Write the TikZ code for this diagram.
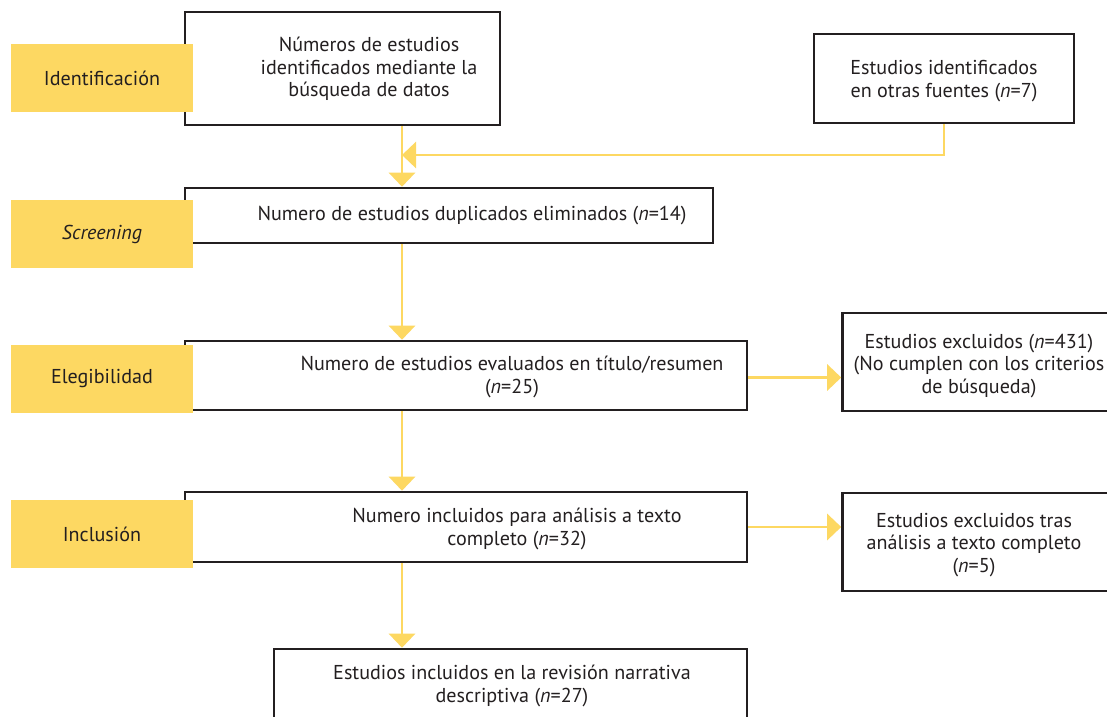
\documentclass[tikz,border=0pt]{standalone}
\usepackage{fontspec}
\setmainfont{PT Sans}
\usetikzlibrary{arrows.meta}
\definecolor{ylw}{RGB}{253,216,98}
\definecolor{ink}{RGB}{35,31,32}
\begin{document}
\begin{tikzpicture}[x=1pt,y=-1pt,
  box/.style={draw=ink, line width=2.6pt, fill=white, rectangle, inner sep=0pt},
  phase/.style={fill=ylw, draw=none, rectangle, minimum width=182pt, minimum height=68pt, inner sep=0pt, text=ink},
  txt/.style={align=center, text=ink, inner sep=0pt},
  yarrow/.style={draw=ylw, line width=2.8pt, -{Triangle[width=26pt,length=14pt]}},
  every node/.style={font=\fontsize{20.1}{22.5}\selectfont}]
\clip (0,0) rectangle (1107,716);
\fill[white] (0,0) rectangle (1107,716);
% boxes
\node[box, minimum width=315pt, minimum height=113pt] (b1) at (342.5,68.5) {};
\node[box, minimum width=260pt, minimum height=89pt] (src) at (944,78.5) {};
\node[box, minimum width=528pt, minimum height=55pt] (b2) at (449,215.5) {};
\node[box, minimum width=562pt, minimum height=69pt] (b3) at (466,375.5) {};
\node[box, minimum width=273pt, minimum height=98pt] (ex1) at (979,362) {};
\node[box, minimum width=562pt, minimum height=70pt] (b4) at (466,527) {};
\node[box, minimum width=273pt, minimum height=98pt] (ex2) at (979,542) {};
\node[box, minimum width=473pt, minimum height=81pt] (b5) at (510.5,689.5) {};
% connectors
\coordinate (ax) at (402,0);
\coordinate (j) at (402,155);
\draw[draw=ylw, line width=2.8pt] (b1.south -| ax) -- (j);
\draw[yarrow] (j) -- (b2.north -| ax);
\draw[yarrow] (src.south) |- (j);
\draw[yarrow] (b2.south -| ax) -- (b3.north -| ax);
\draw[yarrow] (b3.south -| ax) -- (b4.north -| ax);
\draw[yarrow] (b4.south -| ax) -- (b5.north -| ax);
\draw[yarrow] ([yshift=-2pt]b3.east) -- ([yshift=-2pt]ex1.west |- b3.east);
\draw[yarrow] (b4.east) -- (ex2.west |- b4.east);
% phases
\node[phase] (p1) at (102,78) {Identificación};
\node[phase] (p2) at (102,234) {\itshape Screening};
\node[phase] (p3) at (102,379) {Elegibilidad};
\node[phase] (p4) at (102,534) {Inclusión};
% texts
\node[txt] (t1) at (369,69) {Números de estudios\\identificados mediante la\\búsqueda de datos};
\node[txt] (tsrc) at (944,81) {Estudios identificados\\en otras fuentes (\textit{n}=7)};
\node[txt] (t2) at (472,216) {Numero de estudios duplicados eliminados (\textit{n}=14)};
\node[txt] (t3) at (512,377) {Numero de estudios evaluados en título/resumen\\(\textit{n}=25)};
\node[txt] (tex1) at (979,366) {Estudios excluidos (\textit{n}=431)\\(No cumplen con los criterios\\de búsqueda)};
\node[txt] (t4) at (517,529) {Numero incluidos para análisis a texto\\completo (\textit{n}=32)};
\node[txt] (tex2) at (974,545) {Estudios excluidos tras\\análisis a texto completo\\(\textit{n}=5)};
\node[txt] (t5) at (512,686) {Estudios incluidos en la revisión narrativa\\descriptiva (\textit{n}=27)};
\end{tikzpicture}
\end{document}
